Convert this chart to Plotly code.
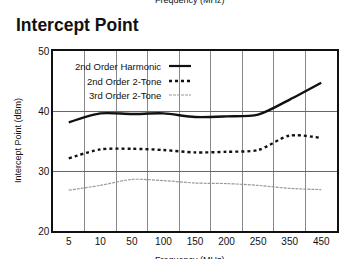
import plotly.graph_objects as go

freq = ["5", "10", "50", "100", "150", "200", "250", "350", "450"]
harmonic_2nd = [38.1, 39.6, 39.5, 39.6, 39.0, 39.1, 39.4, 41.9, 44.7]
two_tone_2nd = [32.1, 33.6, 33.7, 33.5, 33.1, 33.2, 33.5, 35.9, 35.5]
two_tone_3rd = [26.8, 27.6, 28.6, 28.4, 28.0, 27.9, 27.6, 27.1, 26.9]
y_ticks = [20, 30, 40, 50]

FONT = "Liberation Sans, Arial, sans-serif"

fig = go.Figure()
fig.add_trace(go.Scatter(x=freq, y=harmonic_2nd, mode="lines", name="2nd Order Harmonic",
                         line=dict(color="#111", width=2.4, shape="spline", smoothing=0.8)))
fig.add_trace(go.Scatter(x=freq, y=two_tone_2nd, mode="lines", name="2nd Order 2-Tone",
                         line=dict(color="#111", width=2.4, dash="dot", shape="spline", smoothing=0.8)))
fig.add_trace(go.Scatter(x=freq, y=two_tone_3rd, mode="lines", name="3rd Order 2-Tone",
                         line=dict(color="#999", width=1.2, dash="3px,1px", shape="spline", smoothing=0.8)))

PH = 180.0
fig.update_layout(
    width=342, height=259,
    margin=dict(l=53, r=5, t=51, b=28, autoexpand=False),
    paper_bgcolor="white", plot_bgcolor="white",
    showlegend=False,
    font=dict(family=FONT, color="#111", size=10),
    xaxis=dict(type="category", range=[-0.5, 8.5], tickson="boundaries", automargin=False,
               showgrid=True, gridcolor="#888", gridwidth=1,
               showline=True, linecolor="#111", linewidth=1.5, mirror=True,
               ticks="", ticklen=0, tickfont=dict(size=10), zeroline=False),
    yaxis=dict(range=[20, 50], tickvals=y_ticks, showgrid=True, gridcolor="#666", gridwidth=1,
               automargin=False,
               showline=True, linecolor="#111", linewidth=1.5, mirror=True,
               ticks="", tickfont=dict(size=10), zeroline=False),
)

# y-axis title
fig.add_annotation(x=-35/284, y=0.5, xref="paper", yref="paper", xanchor="center", yanchor="middle",
                   text="Intercept Point (dBm)", textangle=-90, showarrow=False, font=dict(size=9))

# legend drawn manually (symbol to the right of text)
names = ["2nd Order Harmonic", "2nd Order 2-Tone", "3rd Order 2-Tone"]
styles = [dict(color="#111", width=2.2), dict(color="#111", width=2.4, dash="dot"),
          dict(color="#999", width=1, dash="3px,1px")]
ys = [1 - 15/PH, 1 - 30/PH, 1 - 44/PH]
for n, s, yy in zip(names, styles, ys):
    fig.add_annotation(x=(163 - 53)/284, y=yy, xref="paper", yref="paper", xanchor="right", yanchor="middle",
                       text=n, showarrow=False, font=dict(size=9.5))
    fig.add_shape(type="line", xref="paper", yref="paper", x0=(169 - 53)/284, x1=(191 - 53)/284,
                  y0=yy, y1=yy, line=s)

# title and partial axis captions
fig.add_annotation(x=(14 - 53)/284, y=1 + 14/PH, xref="paper", yref="paper", xanchor="left", yanchor="bottom",
                   text="<b>Intercept Point</b>", showarrow=False, font=dict(size=17.5))
fig.add_annotation(x=(190 - 53)/284, y=1 + 44/PH, xref="paper", yref="paper", xanchor="center", yanchor="bottom",
                   text="Frequency (MHz)", showarrow=False, font=dict(size=9))
fig.add_annotation(x=(190 - 53)/284, y=-22/PH, xref="paper", yref="paper", xanchor="center", yanchor="top",
                   text="Frequency (MHz)", showarrow=False, font=dict(size=9))

fig.write_html("out.html", config={"displayModeBar": False},
               post_script="document.body.style.margin='0';document.body.style.overflow='hidden';")
